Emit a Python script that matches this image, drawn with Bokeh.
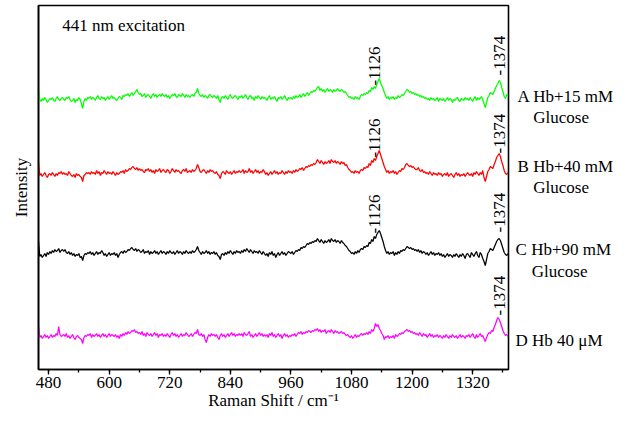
import math
from bokeh.plotting import figure
from bokeh.layouts import row
from bokeh.models import Range1d, SingleIntervalTicker, FixedTicker, ColumnDataSource
from bokeh.embed import file_html
from bokeh.resources import INLINE
from bokeh.core.properties import value

# ---------------- data ----------------
shift_start = 460
shift_step = 2.5
n_points = 373
raman_shift = [shift_start + shift_step * i for i in range(n_points)]

# A: Hb + 15 mM glucose (relative intensity, rows of 50 cm-1)
spec_A = [
    12, 1, -1, 2, 0, 3, 1, -2, 0, 2, 1, 3, 0, -1, 2, 4, 1, 0, 2, 3,
    1, 0, 3, 2, 4, 1, -1, 0, 2, -2, 1, 0, 3, 1, -3, -8, -1, 2, 0, 3,
    2, 4, 1, 3, 2, 0, 3, 5, 2, 1, 4, 2, 3, 0, 2, 4, 1, 3, 5, 2,
    3, 1, 0, 2, 4, 3, 1, 5, 4, 6, 5, 7, 4, 6, 8, 5, 7, 9, 11, 8,
    6, 7, 4, 5, 7, 3, 5, 6, 4, 2, 5, 7, 4, 6, 3, 5, 6, 4, 7, 5,
    4, 6, 3, 5, 2, 4, 6, 5, 7, 4, 3, 6, 5, 4, 7, 5, 3, 6, 4, 5,
    3, 5, 6, 4, 7, 8, 12, 7, 5, 4, 6, 3, 5, 4, 2, 5, 6, 4, 3, 5,
    4, 2, 5, 1, -2, 3, 4, 2, 5, 3, 1, 4, 6, 3, 2, 4, 5, 3, 1, 4,
    3, 5, 2, 4, 6, 3, 1, 4, 5, 2, 3, 0, 4, 2, 5, 3, 1, 4, 2, 3,
    2, 0, 3, 5, 1, 3, 2, 4, 1, -1, 3, 2, 4, 1, 3, 5, 2, 0, 3, 2,
    3, 1, 4, 2, 5, 3, 4, 6, 3, 5, 7, 4, 6, 8, 5, 7, 9, 8, 10, 9,
    11, 13, 14, 10, 12, 9, 11, 8, 10, 12, 9, 11, 10, 8, 11, 9, 10, 12, 10, 9,
    11, 10, 8, 9, 7, 5, 3, 4, 2, 3, 1, 4, 2, 3, 1, 4, 6, 5, 7, 6,
    8, 7, 10, 9, 13, 11, 14, 12, 16, 19, 22, 18, 15, 12, 8, 5, 2, 4, 1, 3,
    2, 4, 1, 3, 2, 5, 3, 4, 6, 5, 7, 9, 11, 10, 8, 9, 7, 8, 6, 7,
    5, 6, 4, 5, 3, 4, 2, 3, 1, 2, 0, 3, 1, 2, 0, 1, 3, -1, 2, 1,
    0, 2, -1, 1, 3, 0, 2, 1, -2, 1, 0, 2, 3, 0, -1, 2, 1, 0, 3, 1,
    2, 0, 3, 1, -1, 2, 4, 0, 3, 1, 2, 4, 1, -3, -7, -2, 3, 5, 8, 7,
    6, 9, 12, 15, 17, 20, 18, 13, 9, 4, 2, 6, 5]

# B: Hb + 40 mM glucose
spec_B = [
    13, 0, 2, -1, 1, 3, 0, -2, 1, 2, 0, 3, 1, -1, 2, 0, 3, 2, 4, 1,
    3, 1, 2, 0, 4, 2, 0, -1, 1, -2, 2, 0, 1, -1, -2, -6, 0, 1, 3, 2,
    3, 1, 4, 2, 3, 1, 5, 2, 4, 0, 3, 2, 5, 3, 1, 4, 2, 3, 1, 4,
    2, 0, 3, 1, 2, 4, 3, 5, 2, 6, 4, 5, 7, 6, 8, 9, 7, 6, 8, 5,
    7, 5, 6, 4, 3, 6, 5, 7, 4, 6, 3, 5, 2, 6, 4, 5, 7, 3, 5, 6,
    4, 3, 6, 5, 2, 4, 7, 5, 3, 6, 4, 5, 3, 2, 5, 6, 4, 7, 3, 4,
    5, 3, 6, 4, 5, 7, 11, 8, 4, 3, 5, 6, 4, 2, 5, 3, 6, 4, 5, 3,
    2, 4, 1, 0, -3, 2, 4, 3, 1, 5, 3, 2, 4, 1, 3, 5, 2, 4, 3, 5,
    3, 4, 6, 2, 5, 3, 4, 7, 3, 5, 2, 4, 6, 3, 5, 2, 4, 3, 6, 4,
    1, 3, 0, 2, 4, 1, 3, 5, 2, 4, 1, 3, 2, 5, 3, 1, 4, 2, 5, 3,
    4, 2, 5, 3, 6, 4, 5, 7, 6, 8, 5, 7, 9, 8, 10, 9, 11, 10, 12, 11,
    13, 16, 14, 12, 15, 13, 11, 14, 12, 13, 15, 12, 16, 14, 13, 15, 12, 14, 13, 11,
    14, 12, 13, 10, 11, 8, 6, 5, 3, 4, 2, 5, 3, 4, 2, 5, 6, 5, 8, 7,
    9, 8, 12, 10, 15, 13, 17, 15, 19, 22, 25, 21, 17, 13, 9, 6, 3, 5, 2, 4,
    3, 5, 2, 4, 1, 3, 5, 4, 7, 6, 8, 11, 12, 10, 9, 10, 8, 9, 7, 6,
    6, 8, 5, 4, 6, 3, 4, 2, 3, 1, 4, 2, 0, 3, 1, 2, 0, 3, 1, 2,
    -1, 1, 2, 0, 3, -1, 1, 2, 0, -2, 1, 3, 0, 2, -1, 1, 0, 2, -1, 1,
    3, 1, 0, 2, -1, 3, 1, 4, 2, 0, 3, 1, 5, -2, -6, -1, 4, 6, 9, 8,
    7, 11, 14, 18, 20, 22, 19, 14, 10, 5, 2, 1, 3]

# C: Hb + 90 mM glucose
spec_C = [
    14, -1, 1, -2, 0, 2, -1, 3, 1, 4, 2, 5, 3, 6, 4, 5, 7, 3, 5, 6,
    4, 6, 3, 2, 4, 1, 3, 0, 2, -1, 1, 0, 2, -2, -1, -5, 0, 2, 1, 3,
    2, 4, 1, 3, 0, 2, 4, 1, 3, 2, 5, 3, 0, 2, -1, 1, 3, 0, 2, 1,
    3, 0, 2, -2, 1, 3, 4, 2, 5, 3, 4, 6, 5, 7, 8, 6, 5, 7, 4, 6,
    5, 3, 4, 6, 2, 4, 3, 5, 1, 4, 2, 3, 5, 2, 4, 1, 3, 5, 2, 4,
    3, 1, 4, 2, 5, 3, 2, 4, 1, 3, 5, 2, 4, 3, 1, 4, 2, 5, 3, 2,
    4, 2, 5, 3, 4, 6, 9, 5, 3, 1, 4, 2, 3, 5, 2, 4, 1, 3, 2, 4,
    1, 3, 0, -1, -4, 1, 2, 0, 3, 1, 4, 2, 5, 3, 1, 4, 2, 5, 3, 4,
    2, 5, 3, 6, 4, 7, 5, 3, 6, 4, 2, 5, 3, 4, 2, 5, 3, 1, 4, 2,
    0, 2, -1, 3, 1, 4, 0, 2, -2, 1, 3, 0, 2, 4, 1, 3, 0, 2, 4, 3,
    2, 4, 1, 3, 5, 4, 6, 5, 8, 7, 9, 8, 10, 12, 11, 13, 12, 14, 13, 15,
    14, 17, 15, 13, 16, 14, 12, 15, 13, 14, 16, 13, 17, 15, 14, 16, 13, 15, 14, 12,
    15, 13, 12, 10, 9, 7, 5, 4, 2, 3, 1, 4, 2, 5, 3, 6, 7, 6, 9, 8,
    10, 9, 13, 12, 16, 14, 19, 17, 21, 23, 25, 22, 18, 14, 9, 5, 2, 4, 1, 3,
    2, 4, 0, 3, 1, 4, 2, 5, 4, 6, 5, 7, 9, 8, 7, 8, 6, 7, 5, 6,
    4, 6, 3, 5, 2, 4, 3, 1, 3, 0, 2, 4, 1, 3, 0, 2, 1, 3, 0, 2,
    -1, 1, -2, 0, 2, -1, 1, 0, -2, 1, -1, 2, 0, -2, 1, -1, 2, 0, -3, 1,
    2, 0, -2, 3, 1, -1, 2, 4, 0, -2, 3, 1, -3, -6, -10, -4, 2, 4, 7, 6,
    5, 8, 11, 14, 16, 17, 15, 11, 7, 3, 1, 0, 2]

# D: Hb 40 uM
spec_D = [
    12, 0, 2, -1, 1, 3, 0, 2, -1, 1, 3, 0, 2, 1, 4, 2, 11, 3, 1, 2,
    3, 1, 4, 0, 2, -1, 1, 3, 0, -2, 1, 2, 0, -1, -2, -6, 0, 2, 1, 3,
    2, 4, 0, 3, 1, 2, 4, 1, 3, 0, 2, 4, 1, 3, 0, 2, 4, 1, 3, 2,
    1, 3, 0, 2, -1, 3, 1, 4, 2, 5, 3, 6, 4, 5, 7, 6, 8, 5, 6, 4,
    5, 3, 6, 2, 4, 1, 5, 3, 2, 4, 1, 3, 5, 2, 4, 0, 3, 2, 4, 1,
    3, 1, 4, 2, 0, 3, 5, 2, 4, 1, 3, 0, 2, 4, 1, 3, 2, 5, 3, 1,
    2, 4, 1, 3, 5, 4, 8, 3, 2, 4, 1, 3, -2, -5, 0, 3, 1, 4, 2, 3,
    1, 3, 0, -2, 2, 4, 1, 3, 0, 2, 4, 1, 3, 5, 2, 4, 1, 3, 2, 4,
    2, 4, 1, 5, 3, 2, 4, 6, 1, 3, 0, 2, 4, 1, 3, 5, 2, 4, 1, 3,
    1, 3, 0, 4, 2, 5, 1, 3, 0, 2, 4, 1, 3, -1, 2, 4, 1, 3, 0, 2,
    1, 3, 2, 4, 1, 3, 5, 4, 6, 3, 5, 4, 6, 5, 7, 6, 5, 7, 6, 8,
    7, 9, 6, 8, 5, 7, 6, 8, 4, 6, 7, 5, 8, 6, 4, 7, 5, 6, 4, 5,
    6, 4, 5, 3, 2, 3, 1, 0, 2, -1, 1, 3, 0, 2, 1, 3, 4, 2, 4, 3,
    5, 3, 6, 4, 8, 6, 9, 14, 11, 13, 9, 7, 4, 2, -2, 1, 0, 2, -1, 1,
    0, 2, -1, 3, 1, 2, 4, 3, 5, 4, 6, 7, 8, 6, 7, 5, 6, 4, 5, 3,
    4, 2, 5, 3, 1, 4, 2, 3, 0, 2, 4, 1, 3, 0, 2, 1, 3, 0, 2, 1,
    -1, 2, 0, 3, 1, -1, 2, 0, 3, 1, 0, 2, -1, 1, 3, 0, 2, 1, -1, 2,
    1, 3, 0, 2, 4, 1, -1, 3, 0, 2, 4, 1, 2, -1, -4, 0, 3, 5, 4, 7,
    6, 10, 13, 17, 20, 18, 15, 11, 7, 4, 2, 3, 1]

series_values = [spec_A, spec_B, spec_C, spec_D]
series_offsets = [269, 194, 114, 32]
series_colors = ["#00ff00", "#ff0000", "#000000", "#ff00ff"]
series_label_line1 = ["A Hb+15 mM", "B Hb+40 mM", "C Hb+90 mM", "D Hb 40 \u03bcM"]
series_label_line2 = ["Glucose", "Glucose", "Glucose", ""]

# peak annotations: series index, peak position, label base height above offset
peak_series = [0, 0, 1, 1, 2, 2, 3]
peak_pos = [1126, 1374, 1126, 1374, 1126, 1374, 1374]
peak_label_height = [15, 25, 18, 22, 22, 23, 22]

x_ticks_interval = 120

FONT = "Liberation Serif"
FS = "17px"

X0, X1 = 460, 1391
FRAME_W, FRAME_H = 470, 364
y_range = Range1d(0, 364)

# ---------------- main figure ----------------
p = figure(frame_width=FRAME_W, frame_height=FRAME_H, output_backend="svg", toolbar_location=None,
           x_range=Range1d(X0, X1), y_range=y_range,
           min_border_left=38, min_border_right=2, min_border_top=5, min_border_bottom=0)
p.grid.visible = False
p.outline_line_color = "black"
p.outline_line_width = 1.6

for vals, off, col in zip(series_values, series_offsets, series_colors):
    ys = [v + off for v in vals]
    p.line(raman_shift, ys, line_color=col, line_width=1.25)

lx, ly, lt = [], [], []
for s, pos, h in zip(peak_series, peak_pos, peak_label_height):
    lx.append(pos)
    ly.append(series_offsets[s] + h)
    lt.append("-" + str(pos))
src = ColumnDataSource(dict(x=lx, y=ly, t=lt))
p.text(x="x", y="y", text="t", source=src, angle=math.pi / 2,
       text_align="left", text_baseline="middle",
       text_font=value(FONT), text_font_size=FS, text_color="black")

p.text(x=[507], y=[344], text=["441 nm excitation"], text_baseline="middle",
       text_font=value(FONT), text_font_size=FS, text_color="black")

ax = p.xaxis[0]
ax.ticker = SingleIntervalTicker(interval=x_ticks_interval, num_minor_ticks=2)
ax.axis_label = "Raman Shift / cm\u207b\u00b9"
ax.axis_label_text_font = FONT
ax.axis_label_text_font_size = FS
ax.axis_label_text_font_style = "normal"
ax.axis_label_text_color = "black"
ax.axis_label_standoff = 0
ax.major_label_text_font = FONT
ax.major_label_text_font_size = FS
ax.major_label_text_color = "black"
ax.major_label_standoff = 2
ax.major_tick_out = 5
ax.major_tick_in = 0
ax.minor_tick_out = 3
ax.minor_tick_in = 0
ax.axis_line_width = 1.6
ax.major_tick_line_width = 1.3
ax.minor_tick_line_width = 1.3
ax.major_tick_line_color = "black"
ax.minor_tick_line_color = "black"
ax.axis_line_color = "black"

ya = p.yaxis[0]
ya.ticker = FixedTicker(ticks=[])
ya.axis_label = "Intensity"
ya.axis_label_text_font = FONT
ya.axis_label_text_font_size = FS
ya.axis_label_text_font_style = "normal"
ya.axis_label_text_color = "black"
ya.axis_label_standoff = 8
ya.major_tick_out = 0
ya.major_tick_in = 0
ya.minor_tick_out = 0
ya.minor_tick_in = 0
ya.major_label_standoff = 0
ya.axis_line_width = 1.6
ya.axis_line_color = "black"

# ---------------- side panel with sample labels ----------------
px_per_unit = FRAME_W / (X1 - X0)
side_w = 108
side_x0 = X1 + 2 / px_per_unit
side_x1 = side_x0 + side_w / px_per_unit
p2 = figure(frame_width=side_w, frame_height=FRAME_H, output_backend="svg", toolbar_location=None,
            x_range=Range1d(side_x0, side_x1), y_range=y_range,
            x_axis_location=None, y_axis_location=None,
            min_border_left=0, min_border_right=0, min_border_top=5, min_border_bottom=0)
p2.grid.visible = False
p2.outline_line_color = None

label_x1 = [1409, 1409, 1405, 1405]
label_x2 = [1440, 1440, 1437, 1437]
label_dy1 = [4, 9, 6, -3]
label_dy2 = [-17, -12, -16, 0]
tx, ty, tt = [], [], []
for i in range(4):
    tx.append(label_x1[i]); ty.append(series_offsets[i] + label_dy1[i]); tt.append(series_label_line1[i])
    if series_label_line2[i]:
        tx.append(label_x2[i]); ty.append(series_offsets[i] + label_dy2[i]); tt.append(series_label_line2[i])
p2.text(x=tx, y=ty, text=tt, text_baseline="middle", text_align="left",
        text_font=value(FONT), text_font_size=FS, text_color="black")

layout = row(p, p2, spacing=0)
open("out.html", "w").write(file_html(layout, INLINE))
